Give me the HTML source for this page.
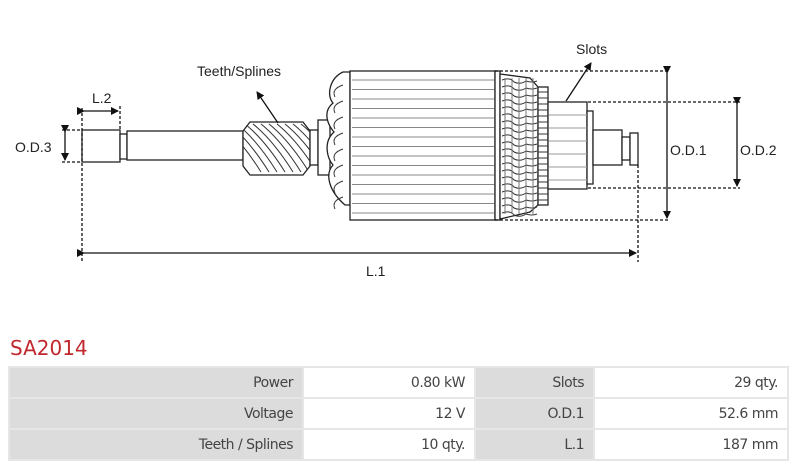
<!DOCTYPE html>
<html><head><meta charset="utf-8"><style>
body{margin:0;background:#fff;width:797px;height:471px;overflow:hidden;font-family:"Liberation Sans",sans-serif}
#t{position:absolute;left:10px;top:336px;color:#c0282d;font-size:20px;font-family:"DejaVu Sans","Liberation Sans",sans-serif}
table{position:absolute;left:8px;top:366px;border-collapse:separate;border-spacing:2px;width:781px;background:#e6e6e6;font-family:"DejaVu Sans",sans-serif;font-size:14px;color:#444}
td{height:29px;text-align:right;padding:0 9px;letter-spacing:-0.5px}
td.l{background:#dcdcdc}td.v{background:#fff}
</style></head><body>
<svg width="797" height="330" style="position:absolute;left:0;top:0" font-family="Liberation Sans, sans-serif" font-size="14" fill="#222">
<defs><marker id="a" markerWidth="8" markerHeight="8" refX="7" refY="4" orient="auto" markerUnits="userSpaceOnUse"><path d="M0,0L8,4L0,8z" fill="#111"/></marker>
<clipPath id="gc"><path d="M243,131L250,122H303L310,131V166L303,175H250L243,166Z"/></clipPath></defs>
<g stroke="#222" stroke-width="1.3" fill="#fff">
<rect x="82" y="130" width="38" height="32"/>
<rect x="120" y="134" width="7" height="25"/>
<rect x="127" y="131" width="116" height="29"/>
<path d="M243,131L250,122H303L310,131V166L303,175H250L243,166Z"/>
<rect x="310" y="130" width="8" height="35"/>
<rect x="318" y="120" width="12" height="55"/>
<path d="M343,72C330,78 326,95 333,103C322,112 328,125 334,132C323,142 327,158 333,165C324,175 330,192 345,205H350V72Z"/>
<rect x="350" y="71" width="145" height="149"/>
<rect x="495" y="71" width="5" height="149"/>
<path d="M500,74L530,78 538,87V205L530,212 500,219Z"/>
<rect x="538" y="87" width="10" height="118"/>
<rect x="548" y="102" width="39" height="87"/>
<rect x="587" y="111" width="6" height="73"/>
<rect x="593" y="130" width="29" height="35"/>
<rect x="622" y="137" width="8" height="23"/>
<rect x="630" y="133" width="8" height="32"/>
</g>
<g id="gl" stroke="#333" stroke-width="1" clip-path="url(#gc)"></g>
<g id="g" stroke="#333" stroke-width="1"></g>
<g stroke="#111" stroke-width="1.3" stroke-dasharray="3,2" fill="none">
<path d="M495,71H670M495,220H670M588,102H740M588,188H740M638,165V262M82,108V262M120,106V130M62,130H82M62,162H82"/>
</g>
<g stroke="#111" stroke-width="1.3" marker-end="url(#a)" marker-start="url(#a)" fill="none">
<line x1="667" y1="73" x2="667" y2="218"/>
<line x1="737" y1="104" x2="737" y2="186"/>
<line x1="84" y1="253" x2="636" y2="253"/>
<line x1="84" y1="111" x2="118" y2="111"/>
<line x1="65" y1="132" x2="65" y2="160"/>
</g>
<g stroke="#111" stroke-width="1.3" marker-end="url(#a)">
<line x1="278" y1="123" x2="257" y2="92"/>
<line x1="566" y1="101" x2="591" y2="63"/>
</g>
<text x="197" y="76">Teeth/Splines</text>
<text x="576" y="54">Slots</text>
<text x="92" y="103">L.2</text>
<text x="15" y="152">O.D.3</text>
<text x="670" y="155">O.D.1</text>
<text x="740" y="155">O.D.2</text>
<text x="366" y="276">L.1</text>
</svg>
<script>
var g=document.getElementById('g'),s='',gl='';
for(var y=80;y<218;y+=9.5)s+='<line x1="352" x2="494" y1="'+y+'" y2="'+y+'" stroke="#888"/>';
for(var i=-3;i<9;i++){var x=245+i*8;gl+='<path d="M'+x+',124 Q'+(x+20)+',140 '+(x+40)+',172" fill="none"/>';}
for(var y=92;y<205;y+=6)s+='<line x1="538" x2="548" y1="'+y+'" y2="'+y+'"/>';
for(var y=115;y<188;y+=13)s+='<line x1="549" x2="587" y1="'+y+'" y2="'+y+'" stroke="#999"/>';
for(var y=80;y<216;y+=7)s+='<path d="M502,'+y+' q8,-3 12,2 q6,3 12,-1 q6,2 11,0" fill="none"/>';
for(var x=505;x<538;x+=7)s+='<line x1="'+x+'" x2="'+x+'" y1="78" y2="214" stroke="#777"/>';
for(var y=85;y<205;y+=16)s+='<path d="M343,'+y+' q-12,4 -8,12" fill="none"/>';
g.innerHTML=s;document.getElementById('gl').innerHTML=gl;
</script>
<div id="t">SA2014</div>
<table>
<tr><td class="l" style="width:274px">Power</td><td class="v" style="width:152px">0.80 kW</td><td class="l" style="width:99px">Slots</td><td class="v">29 qty.</td></tr>
<tr><td class="l">Voltage</td><td class="v">12 V</td><td class="l">O.D.1</td><td class="v">52.6 mm</td></tr>
<tr><td class="l">Teeth / Splines</td><td class="v">10 qty.</td><td class="l">L.1</td><td class="v">187 mm</td></tr>
</table>
</body></html>
